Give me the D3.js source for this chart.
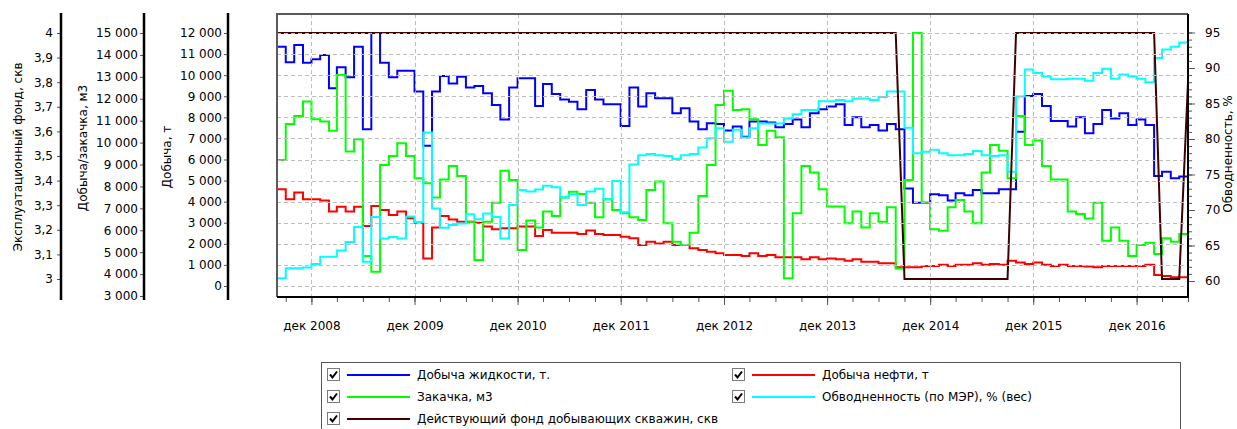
<!DOCTYPE html>
<html>
<head>
<meta charset="utf-8">
<title>Добыча и закачка</title>
<script src="https://cdnjs.cloudflare.com/ajax/libs/d3/7.8.5/d3.min.js"></script>
<style>
   body { margin: 0; background: #fff; }
   svg { display: block; font-family: "DejaVu Sans", sans-serif; font-size: 12px; }
</style>
</head>
<body>
<svg id="chart" width="1237" height="429"></svg>
<script>
/*jslint browser: true*/
/*global d3*/

// first month of every series, one value per month
var startMonth = "2008-08";

// Добыча жидкости, т.
var liquid = [
   11350, 10610, 11430, 10590, 10750, 10960, 9380, 10370, 9900, 11350, 7430, 12000,
   10590, 9900, 10210, 10210, 9220, 6650, 9220, 9960, 9610, 9930, 9420, 9490,
   9140, 8590, 7900, 9420, 9850, 9850, 8540, 9580, 9110, 8850, 8740, 8380,
   9300, 8850, 8620, 8620, 7590, 9420, 8510, 9140, 8900, 8900, 8190, 8430,
   7800, 7430, 7720, 7680, 7370, 7560, 7080, 7800, 7800, 7750, 7530, 7680,
   7900, 7530, 8190, 8380, 8510, 8620, 7640, 8000, 7530, 7640, 7370, 7680,
   7430, 4630, 3950, 3950, 4350, 4300, 4050, 4400, 4300, 4550, 4400, 4400,
   4590, 4590, 7320, 9010, 9110, 8540, 7830, 7830, 7560, 8000, 7240, 7680,
   8350, 7950, 8190, 7640, 7900, 7640, 5220, 5420, 5110, 5190
];

// Добыча нефти, т
var oil = [
   4590, 4110, 4430, 4110, 4110, 4050, 3530, 3760, 3530, 3760, 2850, 3790,
   3600, 3370, 3530, 3210, 3000, 1310, 2780, 3320, 3160, 3050, 3050, 3000,
   2820, 2690, 2740, 2740, 2820, 2820, 2370, 2660, 2530, 2530, 2530, 2470,
   2630, 2470, 2420, 2420, 2340, 2260, 1950, 2100, 2020, 2100, 1950, 1950,
   1790, 1710, 1630, 1550, 1470, 1470, 1420, 1550, 1420, 1470, 1360, 1360,
   1360, 1270, 1360, 1270, 1310, 1270, 1200, 1270, 1150, 1150, 1080, 1080,
   890, 890, 890, 950, 950, 1010, 950, 1010, 1010, 1080, 1010, 1040,
   1010, 1200, 1110, 1040, 1110, 1010, 950, 1010, 950, 950, 920, 890,
   950, 950, 950, 950, 950, 1010, 520, 470, 410, 410
];

// Закачка, м3
var injection = [
   9200, 10850, 11210, 11870, 11060, 10960, 10540, 13080, 9590, 10150, 4830, 4110,
   8980, 9390, 9970, 9390, 8370, 8140, 7500, 8320, 8930, 8480, 6390, 4640,
   6390, 7260, 8720, 8290, 5100, 6440, 6130, 6850, 6650, 7500, 7760, 7650,
   7260, 6590, 7410, 6920, 6770, 6590, 6470, 7840, 8220, 6320, 5480, 5330,
   5890, 7560, 8980, 11720, 12370, 11490, 11520, 11060, 9890, 10540, 10240, 3810,
   6770, 8930, 8630, 7870, 7080, 7080, 6320, 6850, 6130, 6770, 6390, 7050,
   4260, 8290, 15000, 7260, 6040, 5980, 7050, 7380, 6850, 6320, 8630, 9890,
   9630, 8370, 11210, 9890, 10090, 8930, 8320, 8320, 6850, 6740, 6540, 7260,
   5520, 6130, 5520, 4830, 5330, 5430, 4920, 5630, 5480, 5830
];

// Обводненность (по МЭР), % (вес)
var waterCut = [
   60.4, 61.8, 61.8, 61.9, 62.4, 63.4, 63.4, 64.3, 65.5, 67.6, 62.7, 69.0,
   66.0, 66.2, 66.0, 69.1, 68.3, 80.9, 70.2, 67.5, 67.9, 68.1, 69.4, 68.7,
   69.5, 69.0, 66.0, 70.7, 72.8, 72.6, 72.9, 73.4, 73.2, 71.8, 72.2, 70.7,
   72.6, 73.0, 71.5, 74.1, 69.7, 76.4, 77.7, 77.9, 77.7, 77.6, 77.2, 77.7,
   77.9, 78.8, 80.1, 81.5, 79.6, 81.3, 80.2, 81.5, 82.2, 82.2, 82.2, 82.9,
   83.5, 84.1, 84.1, 85.3, 85.3, 85.5, 85.3, 85.7, 85.7, 85.5, 85.9, 86.7,
   86.7, 81.6, 78.0, 78.2, 78.5, 78.0, 77.7, 77.7, 77.9, 78.3, 77.7, 77.6,
   77.7, 75.4, 86.0, 89.8, 89.3, 88.8, 88.4, 88.4, 88.5, 88.5, 88.2, 89.3,
   89.9, 88.5, 89.1, 88.8, 88.5, 88.0, 91.4, 92.6, 93.0, 93.6
];

// Действующий фонд добывающих скважин, скв (one more point: drawn as a polyline)
var wells = [
   4, 4, 4, 4, 4, 4, 4, 4, 4, 4, 4, 4,
   4, 4, 4, 4, 4, 4, 4, 4, 4, 4, 4, 4,
   4, 4, 4, 4, 4, 4, 4, 4, 4, 4, 4, 4,
   4, 4, 4, 4, 4, 4, 4, 4, 4, 4, 4, 4,
   4, 4, 4, 4, 4, 4, 4, 4, 4, 4, 4, 4,
   4, 4, 4, 4, 4, 4, 4, 4, 4, 4, 4, 4,
   4, 3, 3, 3, 3, 3, 3, 3, 3, 3, 3, 3,
   3, 3, 4, 4, 4, 4, 4, 4, 4, 4, 4, 4,
   4, 4, 4, 4, 4, 4, 4, 3, 3, 3, 3.8
];

// axis ticks
var wellTicks = [3, 3.1, 3.2, 3.3, 3.4, 3.5, 3.6, 3.7, 3.8, 3.9, 4];
var volumeTicks = [3000, 4000, 5000, 6000, 7000, 8000, 9000, 10000, 11000, 12000, 13000, 14000, 15000];
var massTicks = [0, 1000, 2000, 3000, 4000, 5000, 6000, 7000, 8000, 9000, 10000, 11000, 12000];
var percentTicks = [60, 65, 70, 75, 80, 85, 90, 95];
var monthNames = ["янв", "фев", "мар", "апр", "май", "июн", "июл", "авг", "сен", "окт", "ноя", "дек"];

// legend texts, in the order the series are listed
var seriesNames = [
   "Добыча жидкости, т.",
   "Добыча нефти, т",
   "Закачка, м3",
   "Обводненность (по МЭР), % (вес)",
   "Действующий фонд добывающих скважин, скв"
];

(function () {
   "use strict";

   var svg = d3.select("#chart"),
      plot = {left: 277, right: 1188, top: 14, bottom: 297},
      first = d3.timeParse("%Y-%m")(startMonth),
      months = d3.range(wells.length).map(function (i) {
         return d3.timeMonth.offset(first, i);
      }),
      last = months[months.length - 1],
      ru = d3.formatLocale({decimal: ",", thousands: "\u00a0", grouping: [3], currency: ["", ""]}),
      fmtInt = ru.format(",d"),
      fmtWell = ru.format(".1~f"),
      x = d3.scaleTime().domain([first, last]).range([plot.left, plot.right]),
      yMass = d3.scaleLinear().domain([0, 12000]).range([286, 33]),
      yVol = d3.scaleLinear().domain([3000, 15000]).range([296, 33]),
      yWell = d3.scaleLinear().domain([3, 4]).range([279, 33]),
      yPct = d3.scaleLinear().domain([60, 95]).range([281, 32.5]),
      colors = ["#0000ff", "#ff0000", "#00ff00", "#00ffff", "#3f0000"],
      quarters = d3.timeMonth.range(first, d3.timeMonth.offset(last, 1)).filter(function (d) {
         return d.getMonth() % 3 === 2;
      }),
      decembers = quarters.filter(function (d) {
         return d.getMonth() === 11;
      }),
      defs = svg.append("defs"),
      series,
      lines,
      legend;

   defs.append("clipPath").attr("id", "clip")
      .append("rect")
      .attr("x", plot.left)
      .attr("y", plot.top)
      .attr("width", plot.right - plot.left)
      .attr("height", plot.bottom - plot.top);

   //monthly step line
   function stepPath(values, scale) {
      var pts = values.map(function (v, i) {
         return [x(months[i]), scale(v)];
      });
      pts.push([x(months[values.length]), scale(values[values.length - 1])]);
      return d3.line().curve(d3.curveStepAfter)(pts);
   }

   function polyPath(values, scale) {
      return d3.line()(values.map(function (v, i) {
         return [x(months[i]), scale(v)];
      }));
   }

   // plot background
   svg.append("rect")
      .attr("x", plot.left).attr("y", plot.top)
      .attr("width", plot.right - plot.left).attr("height", plot.bottom - plot.top)
      .attr("fill", "#fff");

   series = [
      {d: stepPath(liquid, yMass), c: colors[0]},
      {d: stepPath(oil, yMass), c: colors[1]},
      {d: stepPath(injection, yVol), c: colors[2]},
      {d: stepPath(waterCut, yPct), c: colors[3]},
      {d: polyPath(wells, yWell), c: colors[4]}
   ];

   lines = svg.append("g").attr("clip-path", "url(#clip)");
   lines.selectAll("path").data(series).enter().append("path")
      .attr("d", function (s) { return s.d; })
      .attr("fill", "none")
      .attr("stroke", function (s) { return s.c; })
      .attr("stroke-width", 2)
      .attr("stroke-linejoin", "miter");

   //grid on top of the lines, like the original
   svg.append("g").selectAll("line.h").data(massTicks).enter().append("line")
      .attr("x1", plot.left).attr("x2", plot.right)
      .attr("y1", function (d) { return Math.round(yMass(d)) + 0.5; })
      .attr("y2", function (d) { return Math.round(yMass(d)) + 0.5; })
      .attr("stroke", "#bdbdbd").attr("stroke-dasharray", "4,3");
   svg.append("g").selectAll("line.v").data(decembers).enter().append("line")
      .attr("x1", function (d) { return Math.round(x(d)) + 0.5; })
      .attr("x2", function (d) { return Math.round(x(d)) + 0.5; })
      .attr("y1", plot.top).attr("y2", plot.bottom)
      .attr("stroke", "#bdbdbd").attr("stroke-dasharray", "4,3");

   // frame
   svg.append("path")
      .attr("d", "M" + plot.left + "," + plot.bottom + "V" + plot.top + "H" + plot.right)
      .attr("fill", "none").attr("stroke", "#5a5a5a").attr("stroke-width", 2);
   svg.append("path")
      .attr("d", "M" + plot.left + "," + plot.bottom + "H" + plot.right + "V" + plot.top)
      .attr("fill", "none").attr("stroke", "#000").attr("stroke-width", 2);

   // x axis: quarter ticks, labelled each december
   svg.append("g")
      .attr("transform", "translate(0," + (plot.bottom + 1) + ")")
      .call(d3.axisBottom(x).tickValues(quarters).tickSize(4).tickFormat(""))
      .call(function (g) { g.select(".domain").remove(); });
   svg.append("g")
      .attr("transform", "translate(0," + (plot.bottom + 1) + ")")
      .call(d3.axisBottom(x).tickValues(decembers).tickSize(7).tickPadding(16)
         .tickFormat(function (d) { return monthNames[d.getMonth()] + " " + d.getFullYear(); }))
      .call(function (g) { g.select(".domain").remove(); });

   //left axes
   function leftAxis(xPos, scale, ticks, fmt, pad) {
      var g = svg.append("g").attr("transform", "translate(" + xPos + ",0)");
      g.call(d3.axisLeft(scale).tickValues(ticks).tickFormat(fmt).tickSize(4).tickPadding(pad));
      g.select(".domain").remove();
      g.append("line").attr("y1", 13).attr("y2", 300)
         .attr("stroke", "#000").attr("stroke-width", 2.5);
      return g;
   }
   leftAxis(61, yWell, wellTicks, fmtWell, 4);
   leftAxis(144, yVol, volumeTicks, fmtInt, 2);
   leftAxis(228, yMass, massTicks, fmtInt, 2);

   //right axis
   svg.append("g")
      .attr("transform", "translate(" + (plot.right + 1) + ",0)")
      .call(d3.axisRight(yPct).tickValues(d3.range(60, 96)).tickSize(3).tickFormat(""))
      .call(function (g) { g.select(".domain").remove(); });
   svg.append("g")
      .attr("transform", "translate(" + (plot.right + 1) + ",0)")
      .call(d3.axisRight(yPct).tickValues(percentTicks).tickSize(6).tickPadding(10))
      .call(function (g) { g.select(".domain").remove(); });

   svg.selectAll(".tick text")
      .attr("font-family", "DejaVu Sans, sans-serif")
      .attr("font-size", 12)
      .attr("fill", "#000");
   svg.selectAll(".tick line").attr("stroke", "#555");

   // axis titles
   [
      {t: "Эксплуатационный фонд, скв", x: 18, y: 157},
      {t: "Добыча/закачка, м3", x: 83, y: 148},
      {t: "Добыча, т", x: 167, y: 157},
      {t: "Обводненность, %", x: 1228, y: 154}
   ].forEach(function (a) {
      svg.append("text")
         .attr("transform", "translate(" + a.x + "," + a.y + ") rotate(-90)")
         .attr("text-anchor", "middle")
         .attr("dominant-baseline", "central")
         .text(a.t);
   });

   // legend
   legend = svg.append("g");
   legend.append("rect")
      .attr("x", 321.5).attr("y", 362.5).attr("width", 859).attr("height", 80)
      .attr("fill", "#fff").attr("stroke", "#555");

   seriesNames.forEach(function (name, i) {
      var col = i % 2, row = Math.floor(i / 2),
         bx = col === 0 ? 327 : 732,
         cy = 375 + row * 22,
         item = legend.append("g");

      item.append("rect")
         .attr("x", bx + 0.5).attr("y", cy - 6.5).attr("width", 12).attr("height", 12)
         .attr("fill", "#fff").attr("stroke", "#7a7a7a");
      item.append("path")
         .attr("d", "M" + (bx + 3) + "," + (cy - 0.5) + "L" + (bx + 5.5) + "," + (cy + 2.5) + "L" + (bx + 10) + "," + (cy - 3.5))
         .attr("fill", "none").attr("stroke", "#000").attr("stroke-width", 2);
      item.append("line")
         .attr("x1", bx + 20).attr("x2", bx + 83)
         .attr("y1", cy).attr("y2", cy)
         .attr("stroke", colors[i]).attr("stroke-width", 2);
      item.append("text")
         .attr("x", bx + 90).attr("y", cy)
         .attr("dominant-baseline", "central")
         .text(name);
   });
}());
</script>
</body>
</html>
